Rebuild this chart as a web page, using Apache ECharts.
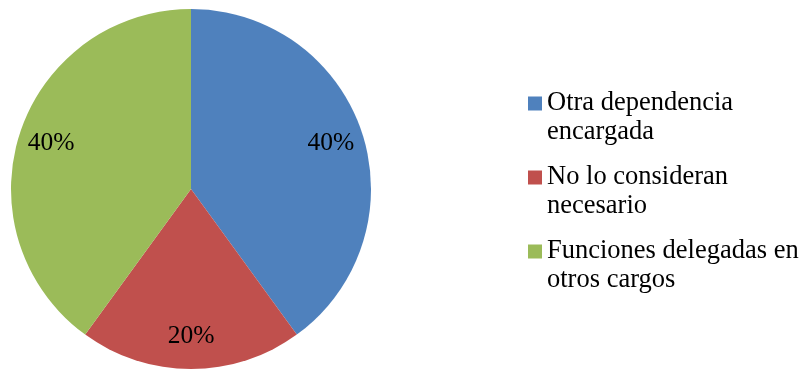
<!DOCTYPE html>
<html>
<head>
<meta charset="utf-8">
<script src="https://cdn.jsdelivr.net/npm/echarts@6/dist/echarts.min.js"></script>
<style>html,body{margin:0;padding:0;background:#fff}#c{width:807px;height:369px}</style>
</head>
<body>
<div id="c"></div>
<script>
var categories = ['Otra dependencia\nencargada', 'No lo consideran\nnecesario', 'Funciones delegadas en\notros cargos'];
var values = [40, 20, 40];
var colors = ['#4F81BD', '#C0504D', '#9BBB59'];

var chart = echarts.init(document.getElementById('c'), null, {renderer: 'canvas'});
var mainData = categories.map(function (n, i) { return {name: n, value: values[i], itemStyle: {color: colors[i]}}; });
var labelData = categories.map(function (n, i) { return {name: n, value: values[i]}; });
chart.setOption({
  animation: false,
  backgroundColor: '#fff',
  legend: {
    orient: 'vertical',
    left: 523,
    top: 55,
    itemWidth: 14,
    itemHeight: 14,
    itemGap: -13,
    icon: 'rect',
    data: categories,
    selectedMode: false,
    formatter: function (name) { return '\n' + name; },
    textStyle: {fontFamily: 'Liberation Serif', fontSize: 26.5, color: '#000', lineHeight: 29}
  },
  series: [{
    type: 'pie',
    center: [191, 189],
    radius: [0, 180],
    startAngle: 90,
    clockwise: true,
    label: {show: false},
    labelLine: {show: false},
    emphasis: {disabled: true},
    data: mainData
  }, {
    type: 'pie',
    center: [191, 189],
    radius: [108, 180],
    startAngle: 90,
    clockwise: true,
    silent: true,
    itemStyle: {color: 'rgba(0,0,0,0)'},
    label: {show: true, position: 'inside', formatter: '{d}%', fontFamily: 'Liberation Serif', fontSize: 25.5, color: '#000'},
    labelLine: {show: false},
    emphasis: {disabled: true},
    data: labelData
  }]
});
</script>
</body>
</html>
